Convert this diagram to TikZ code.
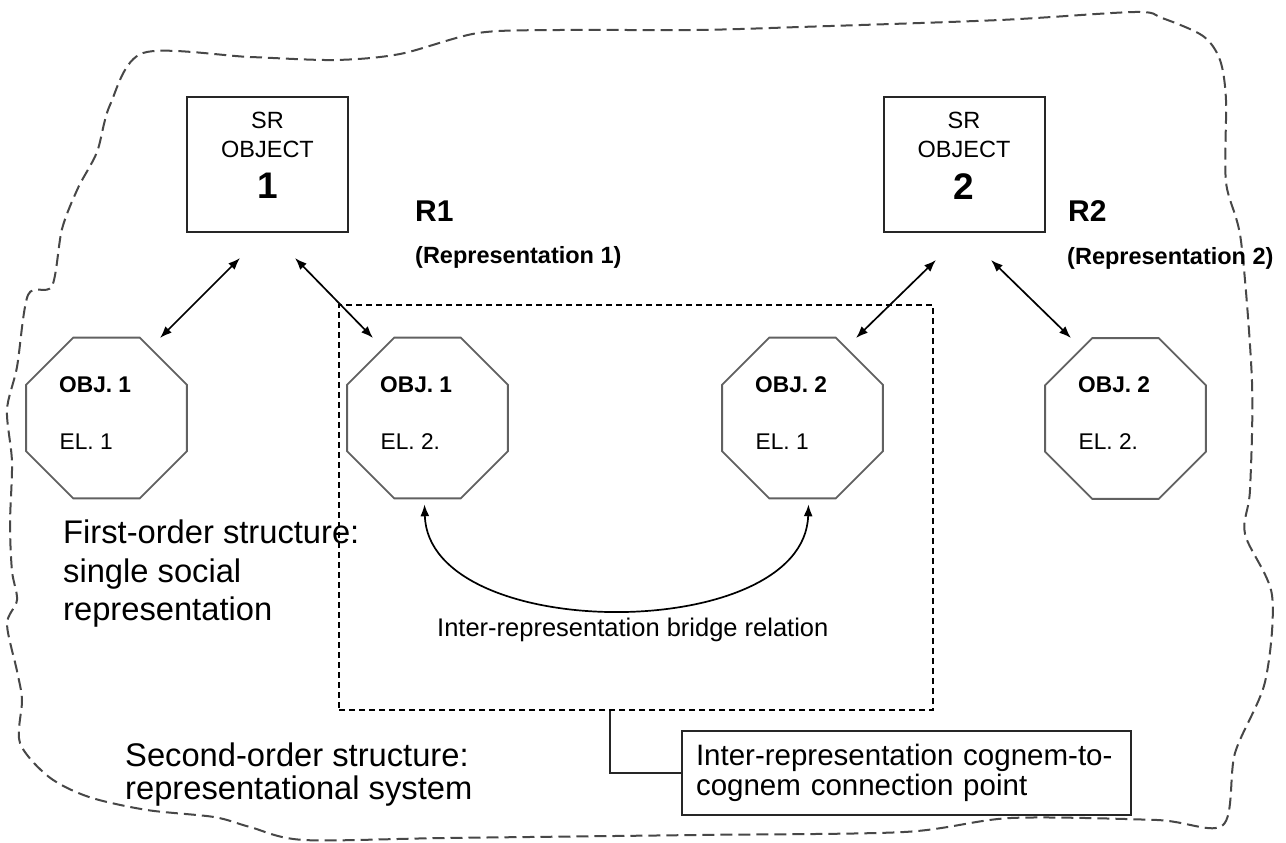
\documentclass[tikz,border=0pt]{standalone}
\usepackage{fontspec}
\setmainfont{Liberation Sans}
\usetikzlibrary{arrows.meta,shapes.geometric,calc}

\begin{document}
\begin{tikzpicture}[x=1pt,y=-1pt,
  srbox/.style={draw=black!85, line width=2pt, minimum width=161pt, minimum height=135pt, inner sep=0pt},
  octa/.style={regular polygon, regular polygon sides=8, draw=black!62, line width=1.8pt,
               minimum size=174pt, inner sep=0pt},
  txt/.style={inner sep=0pt, anchor=base west},
  ctxt/.style={inner sep=0pt, anchor=base},
  srfont/.style={font=\fontsize{23.5}{26}\selectfont},
  numfont/.style={font=\fontsize{37}{40}\selectfont\bfseries},
  rfont/.style={font=\fontsize{30}{34}\selectfont\bfseries},
  repfont/.style={font=\fontsize{23.5}{27}\selectfont\bfseries},
  objfont/.style={font=\fontsize{22.7}{26}\selectfont\bfseries},
  elfont/.style={font=\fontsize{22.7}{26}\selectfont},
  bigfont/.style={font=\fontsize{32.7}{38}\selectfont},
  biarrow/.style={{Latex[length=12pt,width=9pt]}-{Latex[length=12pt,width=9pt]}, line width=1.7pt, black},
  outline/.style={draw=black!72, line width=2pt, dash pattern=on 12pt off 6pt},
  dashbox/.style={draw=black, line width=1.6pt, dash pattern=on 6pt off 4pt,
                  minimum width=594pt, minimum height=405pt, inner sep=0pt},
  callout/.style={draw=black!85, line width=1.8pt, minimum width=449pt, minimum height=84pt,
                  inner xsep=14pt, text width=421pt, align=left,
                  font=\fontsize{29.5}{30}\selectfont},
  leader/.style={draw=black!85, line width=1.8pt}
]
\useasboundingbox (0,0) rectangle (1286,843);

% outer boundary of the representational system
\draw[outline] plot[smooth cycle, tension=0.5] coordinates {
  (143,53) (250,57) (335,60) (400,54) (478,33) (560,30) (696,30) (800,27)
  (1000,20) (1135,12) (1162,18) (1203,36) (1220,60) (1226,100) (1226,182)
  (1241,241) (1252,382) (1250,490) (1245,534) (1272,595) (1265,682)
  (1235,753) (1223,825) (1157,820) (1011,818) (904,832) (696,835) (446,838)
  (304,840) (250,827) (214,817) (147,810) (89,797) (49,777) (20,743)
  (22,700) (17,671) (7,624) (17,600) (12,571) (10,524) (12,462) (7,410)
  (17,367) (28,295) (52,286) (62,229) (78,188) (97,152) (110,105)};

% SR object boxes
\node[srbox] (sr1) at (267.5,164.5) {};
\node[srbox] (sr2) at (964,164.5) {};
\node[ctxt, srfont] (sr1a) at (267.5,128.5) {SR};
\node[ctxt, srfont] (sr1b) at (267.5,157) {OBJECT};
\node[ctxt, numfont] (sr1c) at (267.5,198) {1};
\node[ctxt, srfont] (sr2a) at (964,128.5) {SR};
\node[ctxt, srfont] (sr2b) at (964,157.5) {OBJECT};
\node[ctxt, numfont] (sr2c) at (964,199) {2};

% representation labels
\node[txt, rfont] (r1) at (415,221) {R1};
\node[txt, repfont] (r1n) at (415,263) {(Representation 1)};
\node[txt, rfont] (r2) at (1068,221) {R2};
\node[txt, repfont] (r2n) at (1067,264) {(Representation 2)};

% second-order dashed region
\node[dashbox] (dbox) at (636,507.5) {};

% element octagons
\node[octa] (o1) at (106.5,418) {};
\node[octa] (o2) at (427.5,418) {};
\node[octa] (o3) at (802.5,418) {};
\node[octa] (o4) at (1125.5,418.5) {};
\foreach \o/\a/\b in {o1/1/1, o2/1/2., o3/2/1, o4/2/2.}{
  \node[txt, objfont] (\o obj) at ($(\o.center)+(-47.5,-26)$) {OBJ. \a};
  \node[txt, elfont] (\o el) at ($(\o.center)+(-47,31)$) {EL. \b};
}

% links between SR objects and elements
\coordinate (a1t) at (240,258); \coordinate (a1b) at (160,338);
\coordinate (a2t) at (295,258); \coordinate (a2b) at (373,338);
\coordinate (a3t) at (936,260); \coordinate (a3b) at (856,338);
\coordinate (a4t) at (991,260); \coordinate (a4b) at (1071,338);
\draw[biarrow] (a1t) -- (a1b);
\draw[biarrow] (a2t) -- (a2b);
\draw[biarrow] (a3t) -- (a3b);
\draw[biarrow] (a4t) -- (a4b);

% bridge relation
\coordinate (b1) at ($(o2.south)+(-3,5)$);
\coordinate (b2) at ($(o3.south)+(6,5)$);
\draw[biarrow] (b1) .. controls +(4,140) and +(-4,140) .. (b2);
\node[txt, font=\fontsize{25.5}{30}\selectfont] (bl) at (437,636) {Inter-representation bridge relation};

% structure captions
\node[txt, bigfont] (first) at (63,543) {First-order structure:};
\node[txt, bigfont] (first2) at (63,582) {single social};
\node[txt, bigfont] (first3) at (63,620) {representation};
\node[txt, bigfont] (second) at (125,766) {Second-order structure:};
\node[txt, bigfont] (second2) at (125,799) {representational system};

% connection point callout
\node[callout] (cbox) at (906.5,773) {Inter-representation cognem-to-\\cognem connection point};
\coordinate (cp) at ($(dbox.south)+(-26,0)$);
\draw[leader] (cp) |- (cbox.west);
\end{tikzpicture}
\end{document}
